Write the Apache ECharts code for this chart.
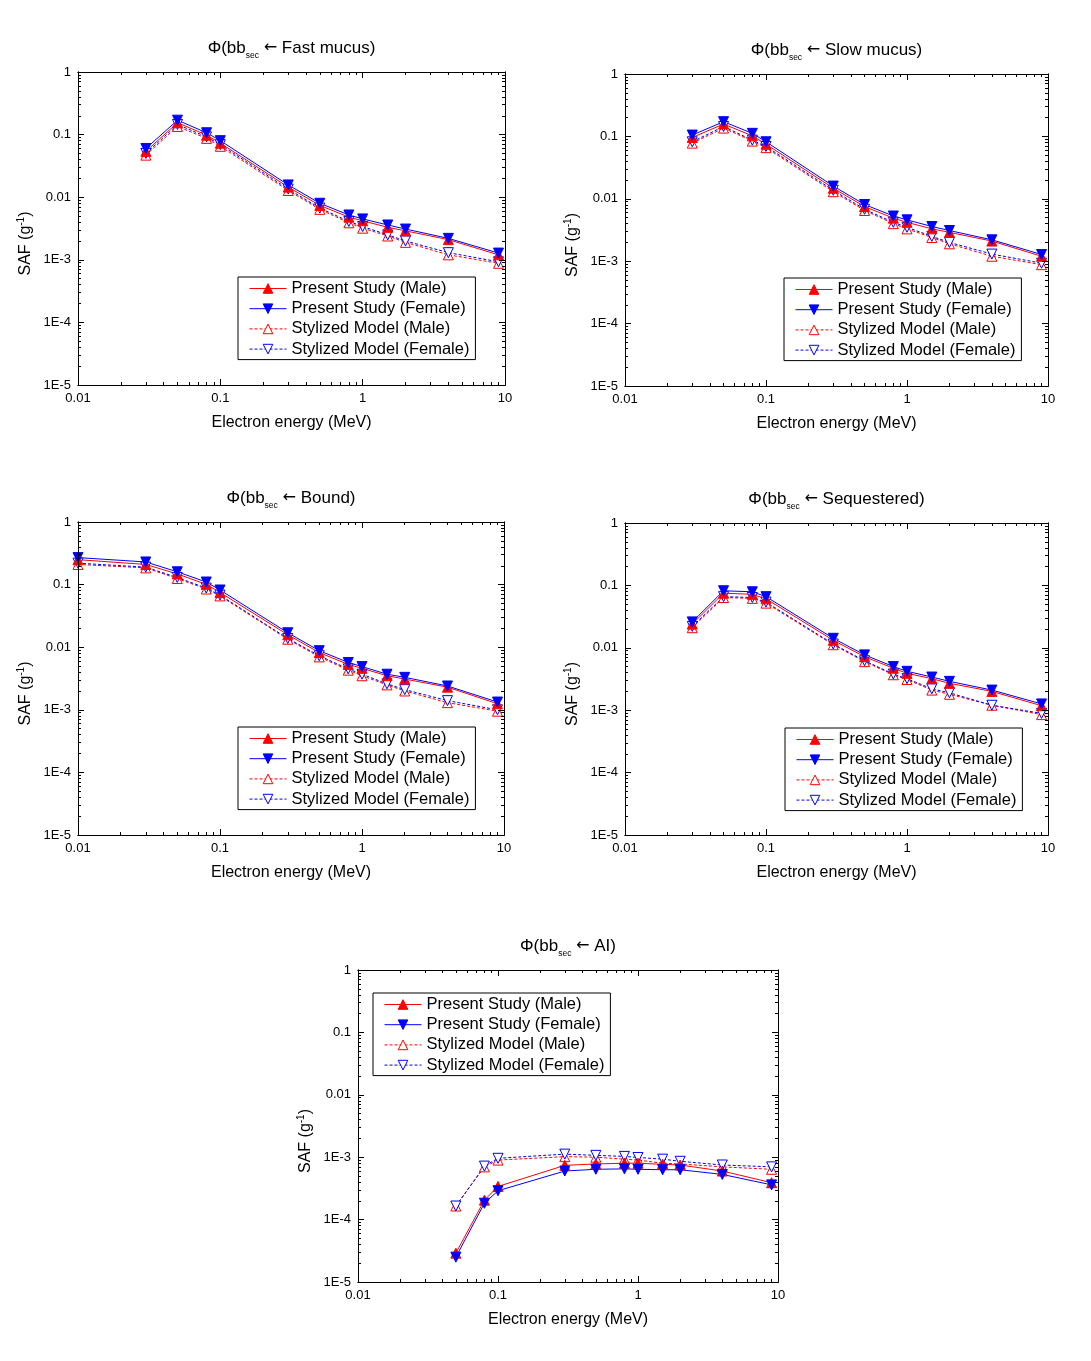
<!DOCTYPE html>
<html><head><meta charset="utf-8">
<script src="https://cdn.jsdelivr.net/npm/echarts@6/dist/echarts.min.js"></script>
<style>html,body{margin:0;padding:0;background:#fff}#c{width:1091px;height:1361px}</style>
</head><body><div id="c"></div>
<script>
// ---------- DATA (electron energy in MeV, SAF in g^-1) ----------
const energyFast = [0.03, 0.05, 0.08, 0.1, 0.3, 0.5, 0.8, 1, 1.5, 2, 4, 9];
const fastPM = [0.054, 0.155, 0.098, 0.073, 0.0145, 0.0074, 0.0048, 0.0042, 0.0033, 0.0029, 0.0021, 0.00120];
const fastPF = [0.060, 0.170, 0.107, 0.080, 0.0157, 0.0080, 0.0052, 0.0045, 0.0036, 0.0031, 0.0022, 0.00128];
const fastSM = [0.047, 0.135, 0.087, 0.065, 0.0128, 0.0064, 0.0039, 0.0032, 0.0024, 0.0019, 0.0012, 0.00088];
const fastSF = [0.050, 0.145, 0.092, 0.069, 0.0135, 0.0067, 0.0041, 0.0034, 0.0025, 0.0020, 0.0013, 0.00093];

const energySlow = [0.03, 0.05, 0.08, 0.1, 0.3, 0.5, 0.8, 1, 1.5, 2, 4, 9];
const slowPM = [0.096, 0.158, 0.102, 0.075, 0.0148, 0.0075, 0.0049, 0.0042, 0.0033, 0.0029, 0.0021, 0.00120];
const slowPF = [0.105, 0.172, 0.112, 0.082, 0.0160, 0.0081, 0.0053, 0.0046, 0.0036, 0.0031, 0.0022, 0.00128];
const slowSM = [0.078, 0.136, 0.084, 0.066, 0.0130, 0.0065, 0.0040, 0.0033, 0.0024, 0.0019, 0.0012, 0.00088];
const slowSF = [0.082, 0.144, 0.087, 0.069, 0.0137, 0.0068, 0.0042, 0.0035, 0.0025, 0.0020, 0.0013, 0.00093];

const energyBound = [0.01, 0.03, 0.05, 0.08, 0.1, 0.3, 0.5, 0.8, 1, 1.5, 2, 4, 9];
const boundPM = [0.25, 0.21, 0.148, 0.101, 0.075, 0.0158, 0.0082, 0.0053, 0.0046, 0.0035, 0.0031, 0.0023, 0.00125];
const boundPF = [0.27, 0.23, 0.160, 0.110, 0.082, 0.0170, 0.0088, 0.0057, 0.0049, 0.0037, 0.0033, 0.0024, 0.00133];
const boundSM = [0.21, 0.185, 0.125, 0.085, 0.066, 0.0134, 0.0070, 0.0043, 0.0035, 0.0025, 0.0020, 0.0013, 0.00095];
const boundSF = [0.22, 0.19, 0.130, 0.088, 0.068, 0.0138, 0.0073, 0.0045, 0.0037, 0.0026, 0.0021, 0.0014, 0.00100];

const energySeq = [0.03, 0.05, 0.08, 0.1, 0.3, 0.5, 0.8, 1, 1.5, 2, 4, 9];
const seqPM = [0.024, 0.075, 0.072, 0.061, 0.0132, 0.0072, 0.0047, 0.0039, 0.0032, 0.0027, 0.0020, 0.00118];
const seqPF = [0.026, 0.082, 0.079, 0.066, 0.0142, 0.0077, 0.0050, 0.0042, 0.0034, 0.0029, 0.0021, 0.00126];
const seqSM = [0.021, 0.064, 0.062, 0.052, 0.0112, 0.0060, 0.0037, 0.0031, 0.0021, 0.0018, 0.0012, 0.00085];
const seqSF = [0.022, 0.066, 0.064, 0.054, 0.0115, 0.0062, 0.0038, 0.0032, 0.0022, 0.0019, 0.0012, 0.00089];

const energyAI = [0.05, 0.08, 0.1, 0.3, 0.5, 0.8, 1, 1.5, 2, 4, 9];
const aiPM = [2.9e-5, 2.05e-4, 3.4e-4, 7.4e-4, 7.8e-4, 8.0e-4, 8.0e-4, 7.7e-4, 7.5e-4, 6.0e-4, 3.9e-4];
const aiPF = [2.5e-5, 1.83e-4, 2.9e-4, 6.0e-4, 6.4e-4, 6.5e-4, 6.4e-4, 6.3e-4, 6.3e-4, 5.3e-4, 3.6e-4];
const aiSM = [1.65e-4, 7.0e-4, 9.0e-4, 1.02e-3, 1.0e-3, 9.3e-4, 9.0e-4, 8.0e-4, 7.8e-4, 7.0e-4, 6.4e-4];
const aiSF = [1.65e-4, 7.2e-4, 9.6e-4, 1.12e-3, 1.07e-3, 1.03e-3, 9.9e-4, 9.3e-4, 8.6e-4, 7.5e-4, 7.0e-4];

const seriesNames = ['Present Study (Male)', 'Present Study (Female)', 'Stylized Model (Male)', 'Stylized Model (Female)'];
const xTickLabels = {'-2': '0.01', '-1': '0.1', '0': '1', '1': '10'};
const yTickLabels = {'0': '1', '-1': '0.1', '-2': '0.01', '-3': '1E-3', '-4': '1E-4', '-5': '1E-5'};

// ---------- LAYOUT ----------
const panels = [
  {src: 'Fast mucus', e: energyFast, v: [fastPM, fastPF, fastSM, fastSF],
   grid: {left: 78, top: 72, width: 427, height: 313}, legend: {left: 238, top: 277}},
  {src: 'Slow mucus', e: energySlow, v: [slowPM, slowPF, slowSM, slowSF],
   grid: {left: 625, top: 74, width: 423, height: 312}, legend: {left: 784, top: 278}},
  {src: 'Bound', e: energyBound, v: [boundPM, boundPF, boundSM, boundSF],
   grid: {left: 78, top: 522, width: 426, height: 313}, legend: {left: 238, top: 727}},
  {src: 'Sequestered', e: energySeq, v: [seqPM, seqPF, seqSM, seqSF],
   grid: {left: 625, top: 523, width: 423, height: 312}, legend: {left: 785, top: 728}},
  {src: 'AI', e: energyAI, v: [aiPM, aiPF, aiSM, aiSF],
   grid: {left: 358, top: 970, width: 420, height: 312}, legend: {left: 373, top: 993}}
];

const FONT = '"Liberation Sans", Arial, sans-serif';
const xMinor = [], yMinor = [];
for (let d = -2; d < 1; d++) for (let k = 2; k < 10; k++) xMinor.push(+(k * Math.pow(10, d)).toPrecision(3));
for (let d = -5; d < 0; d++) for (let k = 2; k < 10; k++) yMinor.push(+(k * Math.pow(10, d)).toPrecision(3));

const styles = [
  {symbol: 'triangle', rot: 0, fill: '#ff0000', col: '#ff0000', dash: 'solid'},
  {symbol: 'triangle', rot: 180, fill: '#0000ff', col: '#0000ff', dash: 'solid'},
  {symbol: 'triangle', rot: 0, fill: '#ffffff', col: '#ff0000', dash: [3, 2]},
  {symbol: 'triangle', rot: 180, fill: '#ffffff', col: '#0000ff', dash: [3, 2]}
];

const grids = [], xAxes = [], yAxes = [], titles = [], legends = [], series = [];

function mkAxis(dim, g, pos, major, main) {
  const isX = dim === 'x';
  const ax = {
    type: 'log', logBase: 10, gridIndex: g, position: pos,
    min: isX ? 0.01 : 1e-5, max: isX ? 10 : 1, interval: 1,
    axisLine: {show: true, onZero: false, lineStyle: {color: '#000', width: 1}},
    axisTick: {show: true, inside: true, length: major ? 6 : 3, lineStyle: {color: '#000', width: 1}},
    axisLabel: {show: !!main, color: '#000', fontSize: 13, fontFamily: FONT, margin: 7,
      formatter: function (v) {
        const k = String(Math.round(Math.log10(v)));
        return isX ? (xTickLabels[k] || '') : (yTickLabels[k] || '');
      }},
    splitLine: {show: false}, minorTick: {show: false}, minorSplitLine: {show: false},
    silent: true, z: 5
  };
  if (!major) ax.axisTick.customValues = isX ? xMinor : yMinor;
  if (main) {
    ax.nameLocation = 'middle';
    if (isX) {
      ax.name = 'Electron energy (MeV)';
      ax.nameGap = 30;
      ax.nameTextStyle = {fontSize: 16, color: '#000', fontFamily: FONT};
    } else {
      ax.name = '{a|SAF (g}{s|-1}{a|)}';
      ax.nameGap = 42;
      ax.nameRotate = 90;
      ax.nameTextStyle = {padding: [0, 30, 0, 0], rich: {
        a: {fontSize: 16, color: '#000', fontFamily: FONT},
        s: {fontSize: 10, color: '#000', fontFamily: FONT, padding: [0, 0, 10, 0]}
      }};
    }
  }
  return ax;
}

panels.forEach((p, g) => {
  grids.push(Object.assign({containLabel: false, outerBoundsMode: 'none', show: false}, p.grid));
  xAxes.push(mkAxis('x', g, 'bottom', true, true), mkAxis('x', g, 'bottom', false, false),
             mkAxis('x', g, 'top', true, false), mkAxis('x', g, 'top', false, false));
  yAxes.push(mkAxis('y', g, 'left', true, true), mkAxis('y', g, 'left', false, false),
             mkAxis('y', g, 'right', true, false), mkAxis('y', g, 'right', false, false));
  titles.push({
    text: '{a|\u03A6(bb}{s|sec}{a| }{r|\u2190}{a| ' + p.src + ')}',
    left: p.grid.left + p.grid.width / 2 - 5, top: p.grid.top - 41, textAlign: 'center',
    textStyle: {fontWeight: 'normal', rich: {
      a: {fontSize: 17, color: '#000', fontFamily: FONT, fontWeight: 'normal'},
      r: {fontSize: 16, color: '#000', fontFamily: '"DejaVu Sans", sans-serif', fontWeight: 'normal'},
      s: {fontSize: 8.5, color: '#000', fontFamily: FONT, fontWeight: 'normal', padding: [15, 0, 0, 0]}
    }}
  });
  legends.push({
    orient: 'vertical', left: p.legend.left, top: p.legend.top, data: seriesNames,
    itemWidth: 37, itemHeight: 12, itemGap: 3.2, padding: [3, 6, 2, 11],
    borderColor: '#000', borderWidth: 1, backgroundColor: '#fff', selectedMode: false,
    lineStyle: {width: 1}, itemStyle: {borderWidth: 1},
    textStyle: {fontSize: 16.5, color: '#000', fontFamily: FONT, lineHeight: 16}, z: 10
  });
  // draw open (stylized) first, filled (present) on top
  [2, 3, 0, 1].forEach(i => {
    const s = styles[i];
    series.push({
      name: seriesNames[i], type: 'line', xAxisIndex: 4 * g, yAxisIndex: 4 * g,
      data: p.e.map((x, j) => [x, p.v[i][j]]),
      symbol: s.symbol, symbolRotate: s.rot, symbolSize: 10, showSymbol: true,
      itemStyle: {color: s.fill, borderColor: s.col, borderWidth: 1},
      lineStyle: {color: s.col, width: 1, type: s.dash},
      emphasis: {disabled: true}, silent: true, animation: false, z: 3
    });
  });
});

const chart = echarts.init(document.getElementById('c'), null, {renderer: 'canvas'});
chart.setOption({
  backgroundColor: '#fff', animation: false,
  grid: grids, xAxis: xAxes, yAxis: yAxes, title: titles, legend: legends, series: series
});
</script>
</body></html>
